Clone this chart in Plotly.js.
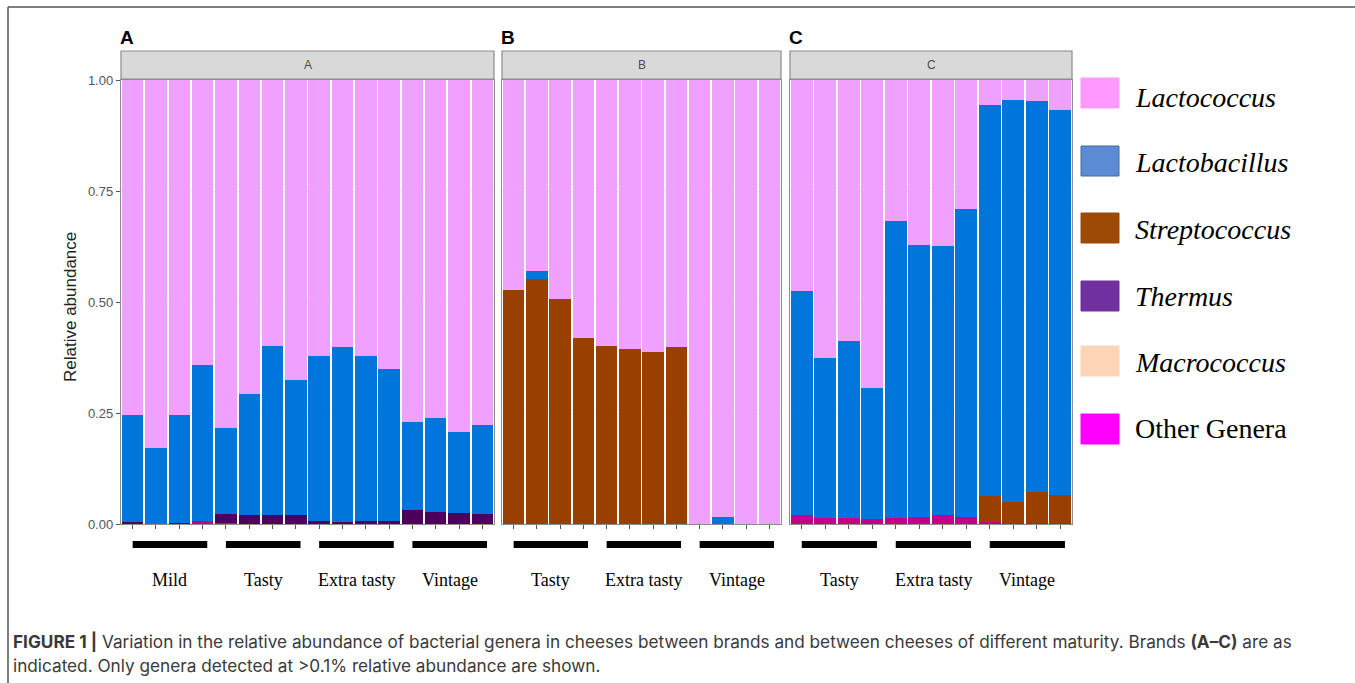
<!DOCTYPE html>
<html>
<head>
<meta charset="utf-8">
<script src="https://cdn.plot.ly/plotly-3.0.1.min.js"></script>
<style>html,body{margin:0;padding:0;background:#fff;}#chart{width:1355px;height:683px;}</style>
</head>
<body>
<div id="chart"></div>
<script>
// ---------- DATA ----------
const genera = ['Other Genera','Macrococcus','Thermus','Streptococcus','Lactobacillus','Lactococcus']; // bottom -> top
const plotColors = ['#C20088','#FFCC99','#4C005C','#993F00','#0075DC','#F0A0FF'];

// Panel A (16 cheeses)
const A_other         = [0,0,0,0.006,0.002,0,0,0,0,0,0,0,0,0,0,0];
const A_macrococcus   = [0,0,0,0,0,0,0,0,0,0,0,0,0,0,0,0];
const A_thermus       = [0.004,0.001,0.003,0,0.020,0.020,0.020,0.020,0.006,0.005,0.006,0.006,0.032,0.027,0.024,0.022];
const A_streptococcus = [0,0,0,0,0,0,0,0,0,0,0,0,0,0,0,0];
const A_lactobacillus = [0.241,0.170,0.243,0.352,0.194,0.272,0.381,0.304,0.372,0.393,0.372,0.342,0.198,0.212,0.183,0.200];
const A_lactococcus   = [0.755,0.829,0.754,0.642,0.784,0.708,0.599,0.676,0.622,0.602,0.622,0.652,0.770,0.761,0.793,0.778];

// Panel B (12 cheeses)
const B_other         = [0,0,0,0,0,0,0,0,0,0,0,0];
const B_macrococcus   = [0,0,0,0,0,0,0,0,0,0,0,0];
const B_thermus       = [0,0,0,0,0,0,0,0,0,0,0,0];
const B_streptococcus = [0.527,0.552,0.507,0.420,0.401,0.395,0.387,0.398,0,0,0,0];
const B_lactobacillus = [0,0.018,0,0,0,0,0,0,0,0.015,0,0];
const B_lactococcus   = [0.473,0.430,0.493,0.580,0.599,0.605,0.613,0.602,1,0.985,1,1];

// Panel C (12 cheeses)
const C_other         = [0.020,0.013,0.013,0.012,0.013,0.016,0.020,0.015,0.004,0.003,0.003,0.003];
const C_macrococcus   = [0,0,0,0,0,0,0,0,0,0,0,0];
const C_thermus       = [0,0,0,0,0,0,0,0,0,0,0,0];
const C_streptococcus = [0,0,0,0,0,0,0,0,0.059,0.047,0.070,0.062];
const C_lactobacillus = [0.505,0.361,0.399,0.294,0.669,0.612,0.607,0.694,0.881,0.905,0.880,0.867];
const C_lactococcus   = [0.475,0.626,0.588,0.694,0.318,0.372,0.373,0.291,0.056,0.045,0.047,0.068];

// maturity groups per panel
const A_groups = ['Mild','Tasty','Extra tasty','Vintage'];
const A_groupSizes = [4,4,4,4];
const B_groups = ['Tasty','Extra tasty','Vintage'];
const B_groupSizes = [4,4,4];
const C_groups = ['Tasty','Extra tasty','Vintage'];
const C_groupSizes = [4,4,4];

const panelNames = ['A','B','C'];
const yTickVals = [0,0.25,0.5,0.75,1];
const yTickText = ['0.00','0.25','0.50','0.75','1.00'];

// legend (separately styled key, as in the figure)
const legendNames = ['Lactococcus','Lactobacillus','Streptococcus','Thermus','Macrococcus','Other Genera'];
const legendColors = ['#FF99FF','#5B8BD4','#9C4A06','#7030A0','#FBD5B5','#FF00FF'];
const legendItalic = [true,true,true,true,true,false];

// ---------- LAYOUT HELPERS ----------
const W = 1355, H = 683;
const px = x => x / W;
const py = y => 1 - y / H;

const panels = [
  {name:'A', xa:'x',  ya:'y',  xl:121, xr:494, data:[A_other,A_macrococcus,A_thermus,A_streptococcus,A_lactobacillus,A_lactococcus], groups:A_groups, sizes:A_groupSizes},
  {name:'B', xa:'x2', ya:'y2', xl:502, xr:781, data:[B_other,B_macrococcus,B_thermus,B_streptococcus,B_lactobacillus,B_lactococcus], groups:B_groups, sizes:B_groupSizes},
  {name:'C', xa:'x3', ya:'y3', xl:790, xr:1072, data:[C_other,C_macrococcus,C_thermus,C_streptococcus,C_lactobacillus,C_lactococcus], groups:C_groups, sizes:C_groupSizes}
];
const yTop = 80, yBot = 524;

const traces = [];
const shapes = [];
const annotations = [];
const layout = {
  width: W, height: H,
  margin: {l:0, r:0, t:0, b:0},
  paper_bgcolor: '#ffffff',
  plot_bgcolor: '#ffffff',
  barmode: 'stack',
  bargap: 0.08,
  showlegend: false,
  font: {family: 'Liberation Sans, Arial, sans-serif', color: '#4D4D4D'}
};

panels.forEach((p, pi) => {
  const n = p.data[0].length;
  const xs = Array.from({length:n}, (_, i) => i);
  genera.forEach((g, gi) => {
    traces.push({
      type: 'bar', x: xs, y: p.data[gi], name: g,
      xaxis: p.xa, yaxis: p.ya,
      marker: {color: plotColors[gi], line: {width: 0}},
      showlegend: false, hoverinfo: 'name+y'
    });
  });
  const xKey = pi === 0 ? 'xaxis' : 'xaxis' + (pi + 1);
  const yKey = pi === 0 ? 'yaxis' : 'yaxis' + (pi + 1);
  layout[xKey] = {
    domain: [px(p.xl), px(p.xr)], range: [-0.5, n - 0.5], anchor: p.ya,
    tickvals: xs, ticktext: xs.map(() => ''), showticklabels: false,
    ticks: 'outside', ticklen: 4, tickwidth: 1, tickcolor: '#555',
    showgrid: false, zeroline: false,
    showline: true, mirror: true, linecolor: '#8C8C8C', linewidth: 1.2,
    fixedrange: true
  };
  layout[yKey] = {
    domain: [py(yBot), py(yTop)], range: [0, 1], anchor: p.xa,
    tickvals: yTickVals, ticktext: yTickText,
    showticklabels: pi === 0, ticks: pi === 0 ? 'outside' : '', ticklen: 4, tickcolor: '#555',
    tickfont: {size: 13, color: '#555', family: 'Liberation Sans, Arial, sans-serif'},
    showgrid: true, gridcolor: '#EBEBEB', zeroline: false,
    showline: true, mirror: true, linecolor: '#8C8C8C', linewidth: 1.2,
    fixedrange: true
  };
  // strip
  shapes.push({type:'rect', xref:'paper', yref:'paper', x0:px(p.xl), x1:px(p.xr), y0:py(79), y1:py(51),
    fillcolor:'#D9D9D9', line:{color:'#8C8C8C', width:1.2}});
  annotations.push({xref:'paper', yref:'paper', x:(px(p.xl)+px(p.xr))/2, y:py(65), text:p.name, showarrow:false,
    xanchor:'center', yanchor:'middle', font:{size:12, color:'#4D4D4D', family:'Liberation Sans, Arial, sans-serif'}});
  // panel letter
  annotations.push({xref:'paper', yref:'paper', x:px(p.xl - 3), y:py(38), text:'<b>' + p.name + '</b>', showarrow:false,
    xanchor:'left', yanchor:'middle', font:{size:19, color:'#000', family:'Liberation Sans, Arial, sans-serif'}});
  // group bars and labels
  let start = 0;
  p.groups.forEach((gname, k) => {
    const first = start, last = start + p.sizes[k] - 1;
    const x0 = first + 0.0, x1 = last + 0.2;
    shapes.push({type:'rect', xref:p.xa, yref:'paper', x0:x0, x1:x1, y0:py(548), y1:py(541),
      fillcolor:'#000', line:{width:0}});
    annotations.push({xref:p.xa, yref:'paper', x:(x0 + x1) / 2, y:py(580), text:gname, showarrow:false,
      xanchor:'center', yanchor:'middle', font:{size:18, color:'#000', family:'Liberation Serif, Times New Roman, serif'}});
    start += p.sizes[k];
  });
});

// y-axis title
annotations.push({xref:'paper', yref:'paper', x:px(70), y:py(307), text:'Relative abundance', textangle:-90, showarrow:false,
  xanchor:'center', yanchor:'middle', font:{size:17, color:'#222', family:'Liberation Sans, Arial, sans-serif'}});

// custom legend
const legendRowY = [93, 161, 228, 296, 361, 429];
const legendTextY = [97, 163, 229, 296, 362, 428];
legendNames.forEach((nm, i) => {
  const cy = legendRowY[i];
  shapes.push({type:'rect', xref:'paper', yref:'paper', x0:px(1081), x1:px(1119), y0:py(cy + 15), y1:py(cy - 15),
    fillcolor: legendColors[i], line:{color: i === 1 ? '#41719C' : legendColors[i], width: 1}});
  annotations.push({xref:'paper', yref:'paper', x:px(1133), y:py(legendTextY[i]), text: legendItalic[i] ? '<i>' + nm + '</i>' : nm,
    showarrow:false, xanchor:'left', yanchor:'middle',
    font:{size:28, color:'#000', family:'Liberation Serif, Times New Roman, serif'}});
});

// outer frame (top and left edges)
shapes.push({type:'line', xref:'paper', yref:'paper', x0:px(8), x1:1, y0:py(7), y1:py(7), line:{color:'#555', width:1.5}});
shapes.push({type:'line', xref:'paper', yref:'paper', x0:px(8), x1:px(8), y0:py(7), y1:0, line:{color:'#555', width:1.5}});

// caption
annotations.push({xref:'paper', yref:'paper', x:px(11), y:py(641), showarrow:false, xanchor:'left', yanchor:'middle',
  text:'<b>FIGURE 1 |</b> Variation in the relative abundance of bacterial genera in cheeses between brands and between cheeses of different maturity. Brands <b>(A–C)</b> are as',
  font:{size:17.2, color:'#3a3a3a', family:'Inter, Liberation Sans, Arial, sans-serif'}});
annotations.push({xref:'paper', yref:'paper', x:px(11), y:py(665), showarrow:false, xanchor:'left', yanchor:'middle',
  text:'indicated. Only genera detected at &gt;0.1% relative abundance are shown.',
  font:{size:17.2, color:'#3a3a3a', family:'Inter, Liberation Sans, Arial, sans-serif'}});

layout.shapes = shapes;
layout.annotations = annotations;

Plotly.newPlot('chart', traces, layout, {displayModeBar:false, staticPlot:true});
</script>
</body>
</html>
